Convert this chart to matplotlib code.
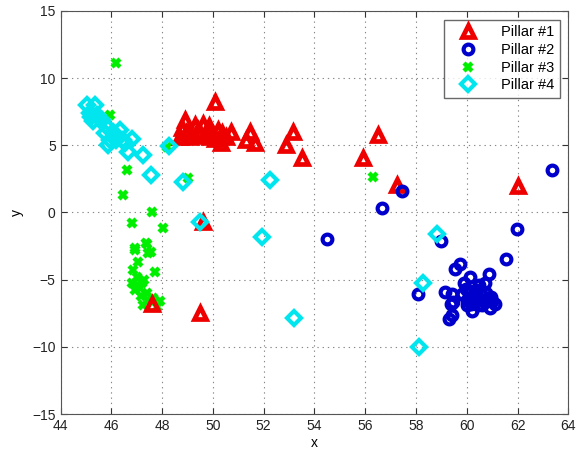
import matplotlib
matplotlib.use("Agg")
import matplotlib.pyplot as plt

plt.rcParams['font.family'] = ['Liberation Sans', 'DejaVu Sans']

# Pillar #1 (red triangles)
p1_x = [50.08, 48.90, 51.45, 51.65, 53.14, 52.87, 53.50, 55.90, 56.49, 57.24, 62.0,
        49.6, 49.49, 47.6, 49.3, 49.6, 49.5, 49.1, 48.8, 48.7, 50.35, 50.3, 50.7,
        51.3, 49.9, 49.8, 50.2, 49.0, 50.0, 49.4, 49.7, 50.5, 48.95, 49.85, 50.1]
p1_y = [8.23, 6.89, 5.99, 5.17, 5.99, 5.03, 4.06, 4.06, 5.77, 2.05, 1.97,
        -0.71, -7.49, -6.81, 6.5, 6.6, 5.9, 5.6, 6.3, 5.6, 5.9, 5.2, 6.0,
        5.4, 5.6, 6.1, 6.1, 6.0, 5.8, 6.1, 5.7, 5.6, 5.9, 6.4, 5.5]

# Pillar #2 (blue circles)
p2_x = [63.37, 57.43, 56.65, 54.49, 58.97, 61.96, 58.09, 61.53, 59.52, 59.75, 60.89,
        59.16, 59.36, 59.28, 60.11, 60.70, 59.4, 59.44, 59.4, 59.9, 60.37, 60.96, 61.1,
        60.2, 60.6, 60.0, 59.8, 60.5, 60.2, 60.9, 60.76, 60.4, 60.8, 60.1,
        60.3, 60.6, 60.0, 60.45, 60.85, 60.25, 59.95, 60.55, 61.0, 60.15]
p2_y = [3.16, 1.60, 0.34, -1.97, -2.12, -1.23, -6.07, -3.46, -4.21, -3.83, -4.58,
        -5.92, -6.81, -7.93, -4.80, -5.25, -6.1, -6.7, -7.6, -5.25, -5.8, -6.3, -6.8,
        -6.7, -6.9, -6.9, -6.1, -5.4, -7.3, -7.1, -6.0, -6.3, -6.6, -6.0,
        -6.4, -6.5, -6.5, -6.9, -6.4, -6.2, -5.7, -6.1, -6.6, -6.8]

# Pillar #3 (green crosses)
p3_x = [46.18, 48.19, 49.02, 56.29, 46.46, 46.81, 47.6, 48.03, 47.36, 46.93, 47.56,
        46.62, 45.95, 47.4, 46.93, 47.44, 47.05, 46.85, 47.72, 47.0, 46.8, 47.2,
        46.93, 47.4, 47.64, 47.9, 47.25, 47.8, 47.45, 47.13, 47.3, 47.05, 47.15]
p3_y = [11.13, 4.88, 2.57, 2.64, 1.30, -0.78, 0.04, -1.15, -2.27, -2.79, -2.94,
        3.16, 7.26, -2.35, -2.65, -3.0, -3.7, -4.3, -4.4, -4.8, -5.25, -5.25,
        -5.8, -6.0, -6.4, -6.6, -6.9, -7.0, -6.5, -5.6, -5.0, -5.4, -6.2]

# Pillar #4 (cyan diamonds)
p4_x = [45.03, 45.36, 45.16, 45.42, 45.62, 45.28, 45.8, 45.75, 46.07, 46.34, 45.95,
        46.2, 46.46, 46.8, 45.87, 46.66, 46.54, 47.25, 47.56, 48.27, 48.82, 49.49,
        52.24, 51.93, 53.19, 58.81, 58.26, 58.1, 45.5, 45.2]
p4_y = [8.0, 8.0, 7.4, 7.26, 6.9, 6.8, 6.4, 5.9, 6.0, 6.1, 5.4,
        5.4, 5.4, 5.5, 5.0, 4.5, 5.2, 4.28, 2.79, 4.94, 2.27, -0.71,
        2.42, -1.83, -7.86, -1.60, -5.25, -10.0, 7.0, 7.1]

labels = ['Pillar #1', 'Pillar #2', 'Pillar #3', 'Pillar #4']
x_ticks = list(range(44, 65, 2))
y_ticks = list(range(-15, 16, 5))

fig = plt.figure(figsize=(5.77, 4.53), dpi=100)
ax = fig.add_axes([0.105, 0.086, 0.88, 0.89])

h3, = ax.plot(p3_x, p3_y, linestyle='none', marker='x', color='#00ee00',
              markersize=6, markeredgewidth=3.2, zorder=3)
h1, = ax.plot(p1_x, p1_y, linestyle='none', marker='^', markerfacecolor='none',
              markeredgecolor='#ee0000', markersize=9, markeredgewidth=3.4, zorder=4)
h2, = ax.plot(p2_x, p2_y, linestyle='none', marker='o', markerfacecolor='none',
              markeredgecolor='#0000cc', markersize=7, markeredgewidth=3.0, zorder=5)
h4, = ax.plot(p4_x, p4_y, linestyle='none', marker='D', markerfacecolor='none',
              markeredgecolor='#00e5ee', markersize=7, markeredgewidth=3.0, zorder=6)

ax.set_xlim(44, 64)
ax.set_ylim(-15, 15)
ax.set_xticks(x_ticks)
ax.set_yticks(y_ticks)
ax.tick_params(direction='in', top=True, right=True, labelsize=10, length=4,
               colors='#333333', labelcolor='#222222')
ax.grid(True, linestyle=(0, (1.2, 3.5)), color='#888888', linewidth=0.8)
for s in ax.spines.values():
    s.set_color('#555555')
ax.set_xlabel('x', fontsize=10, labelpad=2)
ax.set_ylabel('y', fontsize=10, labelpad=6)

leg = ax.legend([h1, h2, h3, h4], labels, loc='upper right', fontsize=10.5,
                frameon=True, fancybox=False, edgecolor='#444444',
                borderaxespad=0.6, handlelength=2.6, handletextpad=0.9,
                labelspacing=0.25, borderpad=0.4)
leg.get_frame().set_linewidth(1.0)

fig.savefig('out.png', dpi=100)
